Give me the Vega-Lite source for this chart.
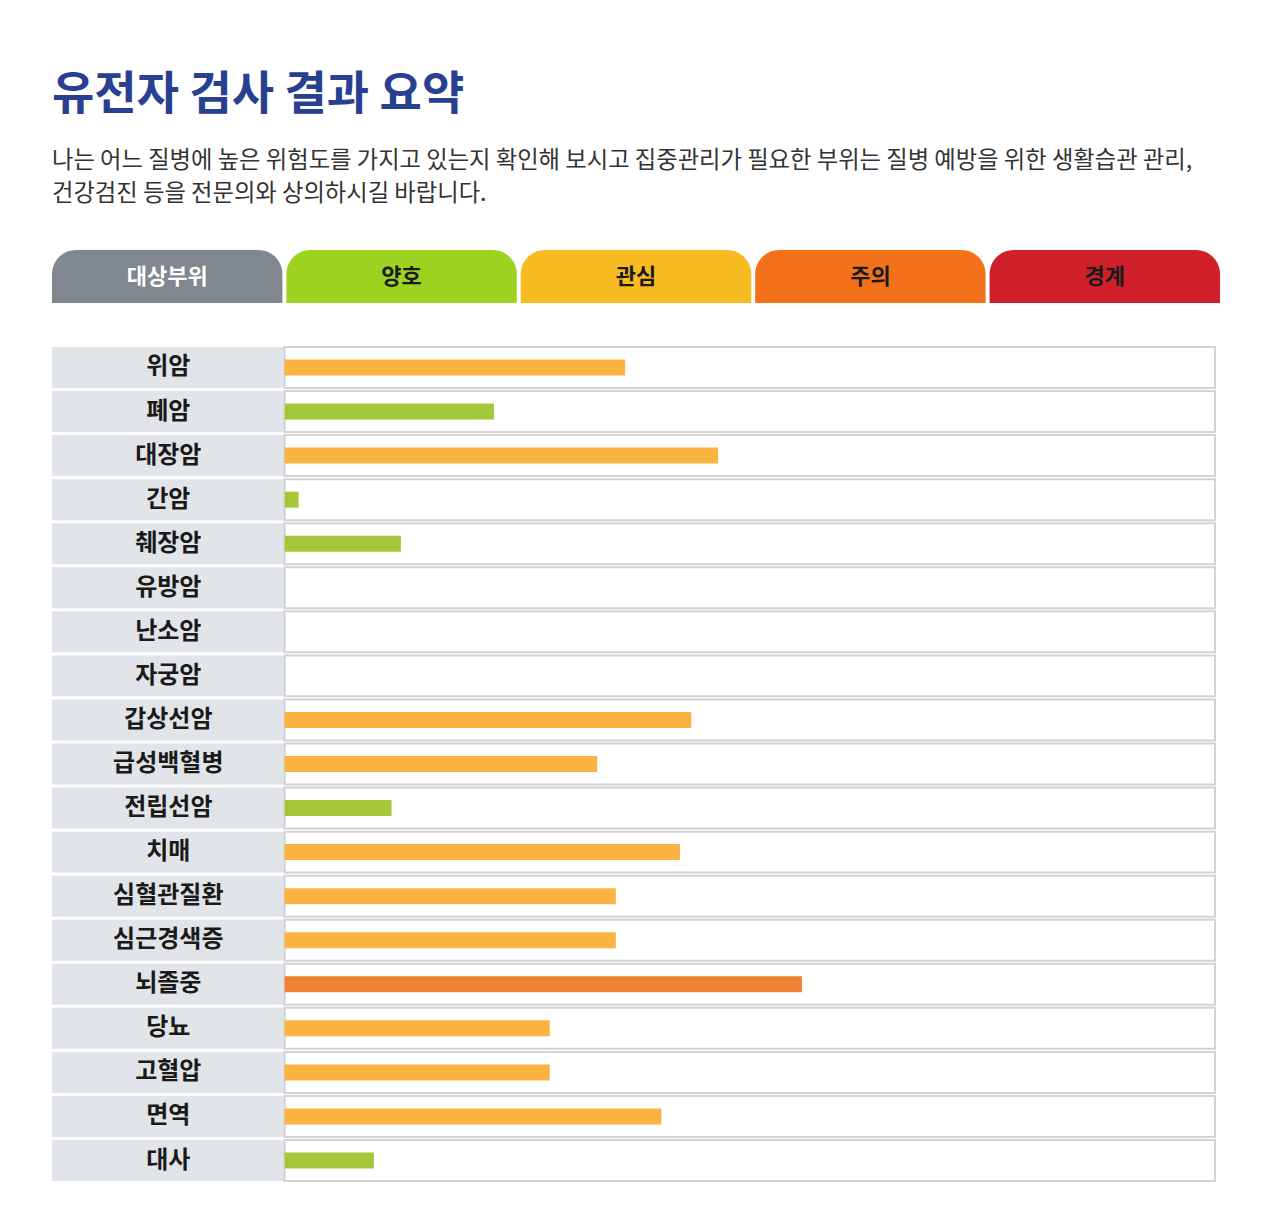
{
  "$schema": "https://vega.github.io/schema/vega-lite/v6.json",
  "background": "white",
  "padding": {"left": 52, "top": 71, "right": 40, "bottom": 0},
  "autosize": {"type": "pad"},
  "config": {
    "font": "Noto Sans CJK KR",
    "view": {"stroke": null}
  },
  "title": {
    "text": "유전자 검사 결과 요약",
    "subtitle": ["나는 어느 질병에 높은 위험도를 가지고 있는지 확인해 보시고 집중관리가 필요한 부위는 질병 예방을 위한 생활습관 관리,", "건강검진 등을 전문의와 상의하시길 바랍니다."],
    "anchor": "start",
    "frame": "group",
    "font": "Noto Sans CJK KR",
    "fontSize": 46,
    "fontWeight": "bold",
    "color": "#293f90",
    "subtitleFont": "Noto Sans CJK KR",
    "subtitleFontSize": 23.3,
    "subtitleColor": "#333333",
    "subtitleLineHeight": 33,
    "subtitlePadding": 31,
    "offset": 44
  },
  "datasets": {
    "levels": [
      {"level": "대상부위", "kind": "head"},
      {"level": "양호", "kind": "good"},
      {"level": "관심", "kind": "watch"},
      {"level": "주의", "kind": "caution"},
      {"level": "경계", "kind": "alert"}
    ],
    "rows": [
      {"name": "위암", "value": 36.6, "level": "관심"},
      {"name": "폐암", "value": 22.5, "level": "양호"},
      {"name": "대장암", "value": 46.6, "level": "관심"},
      {"name": "간암", "value": 1.5, "level": "양호"},
      {"name": "췌장암", "value": 12.5, "level": "양호"},
      {"name": "유방암", "value": null, "level": null},
      {"name": "난소암", "value": null, "level": null},
      {"name": "자궁암", "value": null, "level": null},
      {"name": "갑상선암", "value": 43.7, "level": "관심"},
      {"name": "급성백혈병", "value": 33.6, "level": "관심"},
      {"name": "전립선암", "value": 11.5, "level": "양호"},
      {"name": "치매", "value": 42.5, "level": "관심"},
      {"name": "심혈관질환", "value": 35.6, "level": "관심"},
      {"name": "심근경색증", "value": 35.6, "level": "관심"},
      {"name": "뇌졸중", "value": 55.6, "level": "주의"},
      {"name": "당뇨", "value": 28.5, "level": "관심"},
      {"name": "고혈압", "value": 28.5, "level": "관심"},
      {"name": "면역", "value": 40.5, "level": "관심"},
      {"name": "대사", "value": 9.6, "level": "양호"}
    ]
  },
  "vconcat": [
    {
      "width": 1168,
      "height": 53,
      "data": {"name": "levels"},
      "encoding": {
        "x": {
          "field": "level",
          "type": "nominal",
          "sort": null,
          "scale": {"paddingInner": 0.017, "paddingOuter": 0},
          "axis": null
        }
      },
      "layer": [
        {
          "mark": {"type": "bar", "cornerRadiusTopLeft": 24, "cornerRadiusTopRight": 24},
          "encoding": {
            "color": {
              "field": "level",
              "type": "nominal",
              "scale": {
                "domain": ["대상부위", "양호", "관심", "주의", "경계"],
                "range": ["#80878f", "#9dd320", "#f9bb22", "#f37219", "#cf1f28"]
              },
              "legend": null
            }
          }
        },
        {
          "mark": {"type": "text", "fontSize": 22, "fontWeight": "bold", "baseline": "middle", "letterSpacing": 0.5},
          "encoding": {
            "text": {"field": "level"},
            "color": {
              "condition": {"test": "datum.kind === 'head'", "value": "#ffffff"},
              "value": "#1a1a1a"
            }
          }
        }
      ]
    },
    {
      "width": 1163,
      "height": 834,
      "data": {"name": "rows"},
      "encoding": {
        "y": {
          "field": "name",
          "type": "nominal",
          "sort": null,
          "scale": {"paddingInner": 0.07, "paddingOuter": 0},
          "axis": null
        }
      },
      "layer": [
        {
          "mark": {"type": "rect", "fill": "#e1e4e8"},
          "encoding": {
            "x": {"datum": -25, "type": "quantitative", "scale": {"domain": [-25, 100], "nice": false, "zero": false}, "axis": null},
            "x2": {"datum": 0}
          }
        },
        {
          "mark": {"type": "rect", "fill": "#ffffff", "stroke": "#d3d3d3", "strokeWidth": 2},
          "encoding": {
            "x": {"datum": 0, "type": "quantitative"},
            "x2": {"datum": 100}
          }
        },
        {
          "mark": {"type": "bar", "height": 16},
          "encoding": {
            "x": {"field": "value", "type": "quantitative"},
            "color": {
              "field": "level",
              "type": "nominal",
              "scale": {"domain": ["양호", "관심", "주의"], "range": ["#a5c83a", "#fbb441", "#ee8232"]},
              "legend": null
            }
          }
        },
        {
          "mark": {"type": "text", "fontSize": 24, "fontWeight": "bold", "color": "#1a1a1a", "baseline": "middle", "letterSpacing": 2},
          "encoding": {
            "x": {"datum": -12.5, "type": "quantitative"},
            "text": {"field": "name"}
          }
        }
      ],
      "resolve": {"scale": {"color": "independent"}}
    }
  ],
  "spacing": 43
}
